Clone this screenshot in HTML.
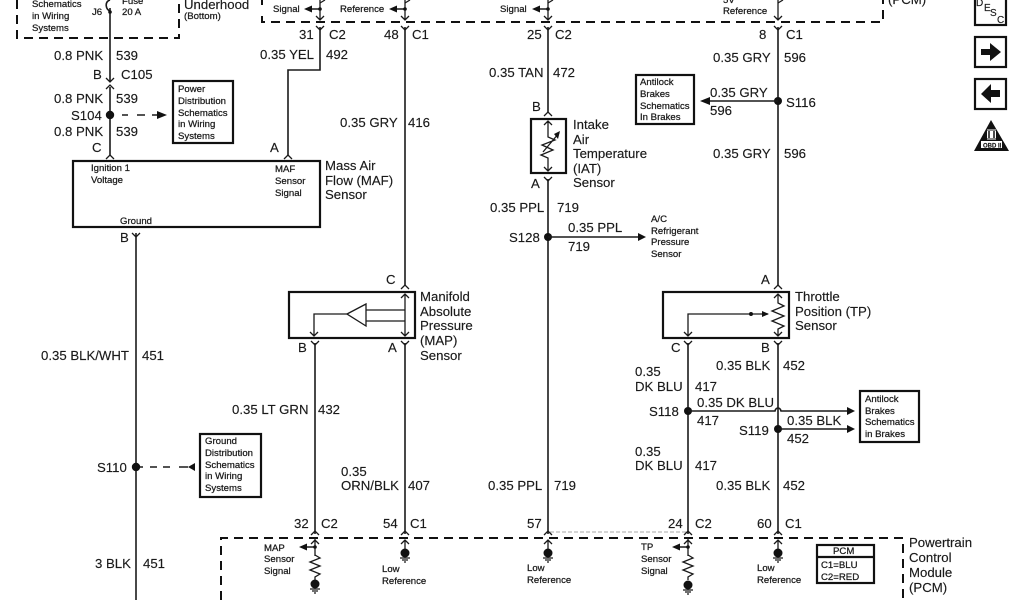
<!DOCTYPE html>
<html><head><meta charset="utf-8"><style>
html,body{margin:0;padding:0;background:#fff;overflow:hidden}
svg{display:block}
text{font-family:"Liberation Sans",sans-serif;fill:#1a1a1a;stroke:#1a1a1a;stroke-width:.15}
.m{font-size:13.2px}
.s{font-size:9.6px}
.s text{stroke-width:.25}
.l{fill:none;stroke:#1a1a1a;stroke-width:1.6}
.d{fill:none;stroke:#111;stroke-width:2;stroke-dasharray:9 6}
.b{fill:none;stroke:#111;stroke-width:2.2}
.t{fill:none;stroke:#1a1a1a;stroke-width:1.3}
</style></head><body>
<svg width="1024" height="600" viewBox="0 0 1024 600" xmlns="http://www.w3.org/2000/svg">
<rect width="1024" height="600" fill="#fff"/>

<!-- dashed enclosures -->
<path class="d" d="M17 0V38H179V0"/>
<path class="d" d="M262 0V5M262 16V22H883V0" />
<path class="d" d="M221 600V538H903V600"/>

<!-- wires -->
<path class="l" d="M110 8V81M110 87V155"/>
<path class="l" d="M136 233V600"/>
<path class="l" d="M320 27V70H288V155"/>
<path class="l" d="M405 27V285M405 343V534"/>
<path class="l" d="M548 27V112M548 179V534"/>
<path class="l" d="M778 27V285M778 343V534"/>
<path class="l" d="M315 343V534"/>
<path class="l" d="M688 343V534"/>
<path d="M550 533H686" fill="none" stroke="#aaa" stroke-width="1" stroke-dasharray="4 2" transform="translate(0,-1)"/>

<!-- connector forks -->
<path class="t" d="M106 78L110 82L114 78M106 89L110 85L114 89M106 159L110 155L114 159M284 159L288 155L292 159M132 233L136 237L140 233"/>
<path class="t" d="M316 26L320 30L324 26M401 26L405 30L409 26M544 26L548 30L552 26M774 26L778 30L782 26"/>
<path class="t" d="M544 116L548 112L552 116M544 177L548 181L552 177M401 289L405 285L409 289M774 289L778 285L782 289"/>
<path class="t" d="M311 341L315 345L319 341M401 341L405 345L409 341M684 341L688 345L692 341M774 341L778 345L782 341"/>
<path class="t" d="M311 535L315 531L319 535M401 535L405 531L409 535M544 535L548 531L552 535M684 535L688 531L692 535M774 535L778 531L782 535"/>

<!-- top partial arrows -->
<path class="l" d="M110 0C104 2 106 10 110 11"/>
<circle cx="110" cy="12" r="1.8" fill="#111"/>
<path class="t" d="M320 0V20M316 16L320 20L324 16M405 0V20M401 16L405 20L409 16M548 0V20M544 16L548 20L552 16M778 0V20M774 16L778 20L782 16"/>
<path class="t" d="M325 0L320 3"/><path class="t" d="M410 0L405 3"/><path class="t" d="M553 0L548 3"/><path class="t" d="M783 0L778 3"/>
<path class="l" d="M312 9H320M397 9H405M540 9H548"/>
<path d="M304 9L312 5.500V12.500ZM389 9L397 5.500V12.500ZM532 9L540 5.500V12.500Z" fill="#111"/>
<circle cx="320" cy="9" r="1.8" fill="#111"/><circle cx="405" cy="9" r="1.8" fill="#111"/><circle cx="548" cy="9" r="1.8" fill="#111"/>

<!-- boxes -->
<rect class="b" x="73" y="161" width="247" height="66"/>
<rect class="b" x="173" y="81" width="60" height="62"/>
<rect class="b" x="531" y="119" width="35" height="54"/>
<rect class="b" x="289" y="292" width="126" height="46"/>
<rect class="b" x="663" y="292" width="126" height="46"/>
<rect class="b" x="636" y="75" width="58" height="49" stroke-width="1.8"/>
<rect class="b" x="860" y="391" width="59" height="51" stroke-width="1.8"/>
<rect class="b" x="200" y="434" width="61" height="63" stroke-width="1.8"/>
<rect class="b" x="817" y="545" width="57" height="38"/>
<path class="b" d="M817 557H874" stroke-width="1.4"/>

<!-- splices & branches -->
<circle cx="110" cy="115" r="4.200" fill="#111"/>
<path class="l" d="M122 115H128M137 115H145M152 115H158" stroke-width="1.4"/>
<path d="M167 115L157 111V119Z" fill="#111"/>
<circle cx="136" cy="467" r="4.200" fill="#111"/>
<path class="l" d="M140 467H143M150 467H157M163 467H170M179 467H188" stroke-width="1.4"/>
<path d="M188 467L195 463V471Z" fill="#111"/>
<circle cx="778" cy="101" r="4" fill="#111"/>
<path class="l" d="M778 101H708"/>
<path d="M700 101L710 97V105Z" fill="#111"/>
<circle cx="548" cy="237" r="4" fill="#111"/>
<path class="l" d="M548 237H640"/>
<path d="M646 237L638 233V241Z" fill="#111"/>
<circle cx="688" cy="411" r="4" fill="#111"/>
<path class="l" d="M688 411H775C776 407 780 407 781 411H848"/>
<path d="M855 411L847 407V415Z" fill="#111"/>
<circle cx="778" cy="429" r="4" fill="#111"/>
<path class="l" d="M778 429H848"/>
<path d="M855 429L847 425V433Z" fill="#111"/>

<!-- IAT symbol -->
<path class="t" d="M548 121V137L555 140L542 145L553 150L541 155L548 158V171M544 125L548 121L552 125M544 167L548 171L552 167M543 152L559 133"/>
<path d="M560 131L554 134L558 139Z" fill="#111"/>

<!-- MAP symbol -->
<path class="t" d="M405 294V336M401 298L405 294L409 298M401 332L405 336L409 332"/>
<path class="t" d="M347 314L366 304V326Z"/>
<path class="t" d="M366 310H405M366 321H405M347 314H314V336M310 332L314 336L318 332"/>

<!-- TP symbol -->
<path class="t" d="M778 294V303L784 306L772 311L784 316L772 321L784 326L778 329V336M774 298L778 294L782 298M774 332L778 336L782 332"/>
<path class="t" d="M688 336V314H768M684 332L688 336L692 332"/>
<circle cx="751" cy="314" r="2" fill="#111"/>
<path d="M769 314L762 311V317Z" fill="#111"/>

<!-- PCM internal -->
<path class="t" d="M315 538V556M311 544L315 540L319 544M405 540V551M401 544L405 540L409 544M548 540V551M544 544L548 540L552 544M688 538V556M684 544L688 540L692 544M778 540V551M774 544L778 540L782 544"/>
<path class="t" d="M315 555L320 558L310 562L320 566L310 570L320 574L315 577V580M688 555L693 558L683 562L693 566L683 570L693 574L688 577V580"/>
<path class="l" d="M307 547H315M680 547H688"/>
<path d="M299 547L307 543.500V550.500ZM672 547L680 543.500V550.500Z" fill="#111"/>
<circle cx="315" cy="547" r="1.800" fill="#111"/><circle cx="688" cy="547" r="1.800" fill="#111"/>
<circle cx="315" cy="584" r="4.500" fill="#111"/><circle cx="405" cy="553" r="4.500" fill="#111"/><circle cx="548" cy="553" r="4.500" fill="#111"/><circle cx="688" cy="585" r="4.500" fill="#111"/><circle cx="778" cy="553" r="4.500" fill="#111"/>
<path class="t" d="M310 589H320M312 591H318M314 593H316M400 558H410M402 560H408M404 562H406M543 558H553M545 560H551M547 562H549M683 590H693M685 592H691M687 594H689M773 558H783M775 560H781M777 562H779"/>

<!-- right icons -->
<rect class="b" x="975" y="-5" width="31" height="30"/>
<rect class="b" x="975" y="37" width="31" height="30"/>
<rect class="b" x="975" y="79" width="31" height="30"/>
<path d="M981 49H990V43L1001 52L990 61V55H981Z" fill="#111"/>
<path d="M1000 90H991V84L981 94L991 103V97H1000Z" fill="#111"/>
<path d="M991 120L1009 151H974Z" fill="#111"/>
<rect x="981" y="141" width="21" height="7" fill="#fff"/>
<rect x="987" y="129" width="9" height="11" fill="#fff"/>
<path d="M989 131V138M994 131V138" stroke="#111" stroke-width="1.5"/>
<path d="M987 130H996M987 139H996" stroke="#111" stroke-width="1"/>
<text x="983" y="147.300" style="font-size:6px;font-weight:bold">OBD II</text>
<text x="976" y="6" style="font-size:10px">D</text><text x="984" y="11" style="font-size:10px">E</text><text x="990" y="16" style="font-size:10px">S</text><text x="997" y="23" style="font-size:10px">C</text>

<!-- main labels -->
<g class="m">
<text x="54" y="60">0.8 PNK</text><text x="116" y="60">539</text>
<text x="93" y="79">B</text><text x="121" y="79">C105</text>
<text x="54" y="103">0.8 PNK</text><text x="116" y="103">539</text>
<text x="71" y="120">S104</text>
<text x="54" y="136">0.8 PNK</text><text x="116" y="136">539</text>
<text x="92" y="152">C</text>
<text x="270" y="152">A</text>
<text x="120" y="242">B</text>
<text x="41" y="360">0.35 BLK/WHT</text><text x="142" y="360">451</text>
<text x="97" y="472">S110</text>
<text x="95" y="568">3 BLK</text><text x="143" y="568">451</text>
<text x="184" y="9">Underhood</text>
<text x="299" y="39">31</text><text x="329" y="39">C2</text>
<text x="260" y="59">0.35 YEL</text><text x="326" y="59">492</text>
<text x="384" y="39">48</text><text x="412" y="39">C1</text>
<text x="340" y="127">0.35 GRY</text><text x="408" y="127">416</text>
<text x="325" y="170">Mass Air</text><text x="325" y="185">Flow (MAF)</text><text x="325" y="199">Sensor</text>
<text x="386" y="284">C</text>
<text x="420" y="301">Manifold</text><text x="420" y="316">Absolute</text><text x="420" y="330">Pressure</text><text x="420" y="345">(MAP)</text><text x="420" y="360">Sensor</text>
<text x="298" y="352">B</text><text x="388" y="352">A</text>
<text x="232" y="414">0.35 LT GRN</text><text x="318" y="414">432</text>
<text x="341" y="476">0.35</text><text x="341" y="490">ORN/BLK</text><text x="408" y="490">407</text>
<text x="294" y="528">32</text><text x="321" y="528">C2</text>
<text x="383" y="528">54</text><text x="410" y="528">C1</text>
<text x="527" y="39">25</text><text x="555" y="39">C2</text>
<text x="489" y="77">0.35 TAN</text><text x="553" y="77">472</text>
<text x="532" y="111">B</text>
<text x="573" y="129">Intake</text><text x="573" y="144">Air</text><text x="573" y="158">Temperature</text><text x="573" y="173">(IAT)</text><text x="573" y="187">Sensor</text>
<text x="531" y="188">A</text>
<text x="490" y="212">0.35 PPL</text><text x="557" y="212">719</text>
<text x="509" y="242">S128</text>
<text x="568" y="232">0.35 PPL</text><text x="568" y="251">719</text>
<text x="488" y="490">0.35 PPL</text><text x="554" y="490">719</text>
<text x="527" y="528">57</text>
<text x="759" y="39">8</text><text x="786" y="39">C1</text>
<text x="713" y="62">0.35 GRY</text><text x="784" y="62">596</text>
<text x="710" y="97">0.35 GRY</text><text x="710" y="115">596</text>
<text x="786" y="107">S116</text>
<text x="713" y="158">0.35 GRY</text><text x="784" y="158">596</text>
<text x="761" y="284">A</text>
<text x="795" y="301">Throttle</text><text x="795" y="316">Position (TP)</text><text x="795" y="330">Sensor</text>
<text x="671" y="352">C</text><text x="761" y="352">B</text>
<text x="716" y="370">0.35 BLK</text><text x="783" y="370">452</text>
<text x="635" y="376">0.35</text><text x="635" y="391">DK BLU</text><text x="695" y="391">417</text>
<text x="649" y="416">S118</text>
<text x="697" y="407">0.35 DK BLU</text><text x="697" y="425">417</text>
<text x="739" y="435">S119</text>
<text x="787" y="425">0.35 BLK</text><text x="787" y="443">452</text>
<text x="635" y="456">0.35</text><text x="635" y="470">DK BLU</text><text x="695" y="470">417</text>
<text x="716" y="490">0.35 BLK</text><text x="783" y="490">452</text>
<text x="668" y="528">24</text><text x="695" y="528">C2</text>
<text x="757" y="528">60</text><text x="785" y="528">C1</text>
<text x="909" y="547">Powertrain</text><text x="909" y="562">Control</text><text x="909" y="577">Module</text><text x="909" y="592">(PCM)</text>
<text x="888" y="4">(PCM)</text>
</g>

<!-- small labels -->
<g class="s">
<text x="32" y="7">Schematics</text><text x="32" y="19">in Wiring</text><text x="32" y="31">Systems</text>
<text x="92" y="15">J6</text><text x="122" y="4">Fuse</text><text x="122" y="15">20 A</text>
<text x="184" y="19">(Bottom)</text>
<text x="178" y="92">Power</text><text x="178" y="104">Distribution</text><text x="178" y="116">Schematics</text><text x="178" y="127">in Wiring</text><text x="178" y="139">Systems</text>
<text x="91" y="171">Ignition 1</text><text x="91" y="183">Voltage</text>
<text x="275" y="172">MAF</text><text x="275" y="184">Sensor</text><text x="275" y="196">Signal</text>
<text x="120" y="224">Ground</text>
<text x="273" y="12">Signal</text><text x="340" y="12">Reference</text><text x="500" y="12">Signal</text><text x="723" y="14">Reference</text><text x="723" y="3">5V</text>
<text x="640" y="85">Antilock</text><text x="640" y="97">Brakes</text><text x="640" y="109">Schematics</text><text x="640" y="120">In Brakes</text>
<text x="651" y="222">A/C</text><text x="651" y="234">Refrigerant</text><text x="651" y="245">Pressure</text><text x="651" y="257">Sensor</text>
<text x="865" y="402">Antilock</text><text x="865" y="414">Brakes</text><text x="865" y="425">Schematics</text><text x="865" y="437">in Brakes</text>
<text x="205" y="444">Ground</text><text x="205" y="456">Distribution</text><text x="205" y="468">Schematics</text><text x="205" y="479">in Wiring</text><text x="205" y="491">Systems</text>
<text x="264" y="551">MAP</text><text x="264" y="562">Sensor</text><text x="264" y="574">Signal</text>
<text x="382" y="572">Low</text><text x="382" y="584">Reference</text>
<text x="527" y="571">Low</text><text x="527" y="583">Reference</text>
<text x="641" y="550">TP</text><text x="641" y="562">Sensor</text><text x="641" y="574">Signal</text>
<text x="757" y="571">Low</text><text x="757" y="583">Reference</text>
<text x="833" y="554">PCM</text><text x="821" y="568">C1=BLU</text><text x="821" y="580">C2=RED</text>
</g>
</svg>
</body></html>
